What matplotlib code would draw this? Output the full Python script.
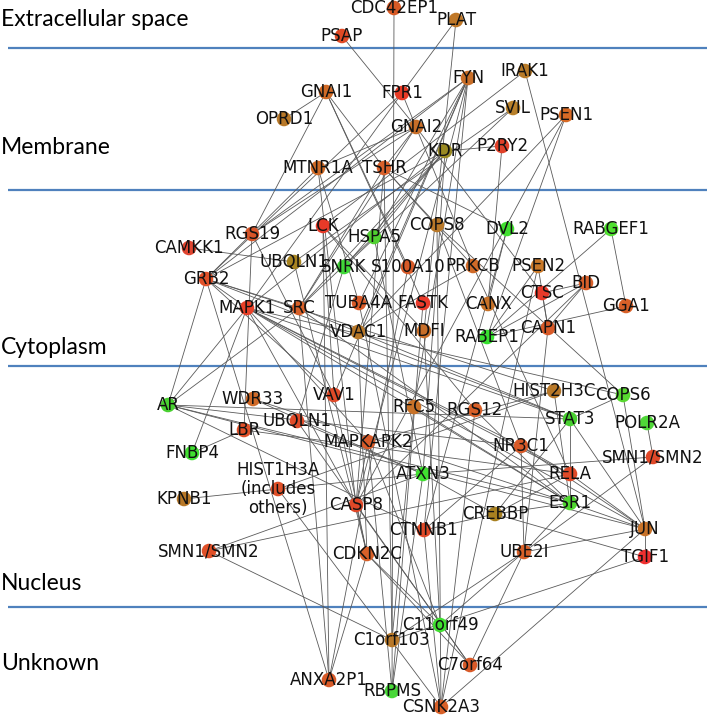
import matplotlib
matplotlib.use("Agg")
import matplotlib.pyplot as plt
from matplotlib.collections import LineCollection

# ---------------- data ----------------
nodes = ["CDC42EP1", "PLAT", "PSAP", "FYN", "IRAK1", "GNAI1", "FPR1", "SVIL", "PSEN1", "OPRD1",
         "GNAI2", "P2RY2", "KDR", "MTNR1A", "TSHR", "LCK", "COPS8", "DVL2", "RABGEF1", "RGS19",
         "HSPA5", "CAMKK1", "UBQLN1_c", "SNRK", "S100A10", "PRKCB", "PSEN2", "GRB2", "BID", "CTSC",
         "MAPK1", "SRC", "TUBA4A", "FASTK", "CANX", "GGA1", "CAPN1", "VDAC1", "MDFI", "RABEP1",
         "HIST2H3C", "VAV1", "COPS6", "WDR33", "AR", "RFC5", "RGS12", "STAT3", "UBQLN1_n", "POLR2A",
         "LBR", "MAPKAPK2", "NR3C1", "FNBP4", "SMN_R", "ATXN3", "RELA", "HIST1H3A", "KPNB1", "ESR1",
         "CASP8", "CREBBP", "JUN", "CTNNB1", "SMN_L", "UBE2I", "CDKN2C", "TGIF1", "C11orf49",
         "C1orf103", "C7orf64", "ANXA2P1", "RBPMS", "CSNK2A3"]

labels = {"UBQLN1_c": "UBQLN1", "UBQLN1_n": "UBQLN1", "SMN_R": "SMN1/SMN2", "SMN_L": "SMN1/SMN2",
          "HIST1H3A": "HIST1H3A\n(includes\nothers)"}

# layout (pixel positions of the network drawing)
pos_x = [394, 456, 342, 468, 525, 326, 402, 513, 566, 284,
         416, 502, 445, 318, 384, 323, 437, 507, 611, 252,
         374, 189, 294, 344, 408, 473, 538, 206, 586, 542,
         247, 299, 359, 423, 488, 626, 548, 358, 424, 487,
         554, 334, 623, 253, 168, 414, 475, 570, 297, 647,
         244, 368, 521, 192, 653, 423, 570, 278, 184, 570,
         356, 495, 645, 424, 209, 524, 367, 645, 440,
         392, 470, 329, 392, 441]
pos_y = [8, 20, 36, 78, 71, 92, 93, 108, 115, 119,
         127, 146, 151, 168, 168, 226, 225, 229, 229, 234,
         237, 248, 262, 267, 267, 266, 266, 279, 283, 293,
         308, 308, 303, 303, 304, 306, 328, 332, 331, 337,
         391, 395, 395, 399, 405, 407, 410, 419, 421, 423,
         430, 442, 446, 453, 457, 474, 474, 489, 499, 503,
         505, 514, 529, 530, 551, 552, 554, 557, 625,
         640, 665, 680, 691, 707]

node_colors = ["#D85A25", "#C07828", "#E04A25", "#C86E28", "#B87A28", "#D06A25", "#E83A25", "#B8802A", "#D86A25", "#B87828",
               "#C86E28", "#E04028", "#9A8A22", "#D06A25", "#D8602A", "#E83A28", "#B87828", "#40E030", "#50E030", "#D85528",
               "#50D030", "#E04530", "#A88420", "#40D838", "#D85A28", "#D06A28", "#C87828", "#E05028", "#D8602A", "#E83A2A",
               "#E84028", "#D86028", "#D85A28", "#EA3A2A", "#C87228", "#D86028", "#D85A28", "#B87828", "#C86E28", "#38E030",
               "#B87828", "#E04A28", "#58D830", "#D06A28", "#48D030", "#C87228", "#D86028", "#48D030", "#E04A28", "#50D838",
               "#E05028", "#D85A28", "#D85A28", "#40E030", "#E04828", "#40E030", "#E04A28", "#E05028", "#B87828", "#50D830",
               "#E04828", "#A88020", "#C87228", "#E04A28", "#E05028", "#D86028", "#D86028", "#F03030", "#40E030",
               "#B87828", "#D85A28", "#D85A28", "#48D838", "#D86028"]

edges = [
    ("CDC42EP1", "RBPMS"), ("PLAT", "FPR1"), ("PLAT", "MDFI"), ("PSAP", "GNAI2"), ("GNAI2", "CTSC"),
    ("OPRD1", "GNAI1"), ("GNAI1", "RGS19"), ("GNAI1", "TSHR"), ("GNAI1", "FASTK"), ("GNAI1", "S100A10"),
    ("FPR1", "GNAI2"), ("FPR1", "GRB2"), ("FPR1", "MAPK1"),
    ("FYN", "RGS19"), ("FYN", "GRB2"), ("FYN", "TUBA4A"), ("FYN", "VAV1"), ("FYN", "VDAC1"),
    ("FYN", "CASP8"), ("FYN", "RFC5"), ("FYN", "CTNNB1"),
    ("IRAK1", "LCK"), ("IRAK1", "JUN"), ("SVIL", "UBQLN1_c"), ("SVIL", "SNRK"),
    ("KDR", "P2RY2"), ("P2RY2", "CANX"), ("PSEN1", "RABEP1"), ("PSEN1", "CASP8"), ("PSEN1", "VDAC1"),
    ("KDR", "SNRK"), ("KDR", "SRC"), ("KDR", "MAPK1"), ("KDR", "GRB2"), ("KDR", "ATXN3"),
    ("MTNR1A", "GRB2"), ("MTNR1A", "TUBA4A"), ("MTNR1A", "CASP8"),
    ("TSHR", "GNAI2"), ("TSHR", "COPS8"), ("TSHR", "CASP8"), ("TSHR", "SRC"), ("TSHR", "C1orf103"),
    ("GNAI2", "MTNR1A"), ("GNAI2", "RGS19"), ("GNAI2", "SRC"),
    ("RABGEF1", "GGA1"), ("RABGEF1", "RABEP1"), ("GGA1", "RABEP1"), ("CAMKK1", "UBQLN1_c"),
    ("RGS19", "LBR"), ("RGS19", "VAV1"),
    ("GRB2", "SRC"), ("GRB2", "VAV1"), ("GRB2", "MAPK1"), ("GRB2", "AR"), ("GRB2", "HIST2H3C"),
    ("GRB2", "STAT3"), ("GRB2", "ANXA2P1"),
    ("LCK", "ANXA2P1"), ("LCK", "VAV1"), ("LCK", "MDFI"), ("LCK", "RGS12"),
    ("HSPA5", "SRC"), ("HSPA5", "KDR"), ("HSPA5", "ATXN3"), ("HSPA5", "FYN"),
    ("SNRK", "UBQLN1_n"),
    ("COPS8", "COPS6"), ("COPS8", "NR3C1"), ("COPS8", "CSNK2A3"),
    ("DVL2", "CTNNB1"), ("DVL2", "CANX"), ("DVL2", "TSHR"),
    ("S100A10", "ANXA2P1"), ("PRKCB", "RELA"), ("PRKCB", "VDAC1"), ("PRKCB", "TSHR"), ("PRKCB", "GNAI2"),
    ("PSEN2", "RABEP1"), ("PSEN2", "CSNK2A3"), ("PSEN2", "CAPN1"),
    ("BID", "CAPN1"), ("BID", "RABEP1"), ("BID", "CASP8"), ("BID", "CTSC"), ("CTSC", "CAPN1"),
    ("CAPN1", "UBE2I"), ("TUBA4A", "CSNK2A3"), ("VDAC1", "CDKN2C"), ("MDFI", "C11orf49"),
    ("FASTK", "RBPMS"),
    ("MAPK1", "AR"), ("MAPK1", "ESR1"), ("MAPK1", "STAT3"), ("MAPK1", "JUN"), ("MAPK1", "NR3C1"),
    ("MAPK1", "MAPKAPK2"), ("MAPK1", "CASP8"), ("MAPK1", "RELA"),
    ("SRC", "AR"), ("SRC", "ANXA2P1"), ("SRC", "ESR1"), ("SRC", "STAT3"),
    ("AR", "STAT3"), ("AR", "NR3C1"), ("AR", "ESR1"), ("AR", "JUN"), ("AR", "CTNNB1"),
    ("WDR33", "ESR1"), ("WDR33", "ATXN3"), ("VAV1", "CDKN2C"),
    ("HIST2H3C", "HIST1H3A"), ("HIST2H3C", "MAPKAPK2"), ("HIST2H3C", "ESR1"),
    ("COPS6", "JUN"), ("COPS6", "MAPK1"), ("COPS6", "STAT3"),
    ("RFC5", "ESR1"), ("RFC5", "C1orf103"), ("RGS12", "ESR1"), ("RGS12", "CSNK2A3"),
    ("UBQLN1_n", "ATXN3"), ("UBQLN1_c", "CDKN2C"), ("LBR", "FNBP4"), ("LBR", "RELA"),
    ("MAPKAPK2", "CASP8"), ("MAPKAPK2", "C11orf49"),
    ("NR3C1", "JUN"), ("NR3C1", "RELA"), ("NR3C1", "UBE2I"), ("NR3C1", "CTNNB1"),
    ("FNBP4", "MAPK1"), ("POLR2A", "SMN_R"), ("SMN_R", "ATXN3"), ("SMN_R", "UBE2I"),
    ("ATXN3", "CREBBP"), ("STAT3", "RELA"), ("RELA", "ESR1"), ("STAT3", "JUN"), ("RELA", "JUN"),
    ("RELA", "CREBBP"), ("KPNB1", "HIST1H3A"), ("HIST1H3A", "ATXN3"),
    ("CASP8", "C7orf64"), ("CASP8", "CDKN2C"),
    ("ESR1", "JUN"), ("ESR1", "UBE2I"), ("ESR1", "CREBBP"),
    ("CREBBP", "CTNNB1"), ("CREBBP", "TGIF1"), ("CREBBP", "STAT3"),
    ("CTNNB1", "CSNK2A3"), ("JUN", "TGIF1"), ("JUN", "CSNK2A3"), ("JUN", "UBE2I"),
    ("SMN_L", "C1orf103"), ("SMN_L", "ATXN3"), ("SMN_L", "RELA"),
    ("CDKN2C", "ANXA2P1"), ("CDKN2C", "C11orf49"), ("CDKN2C", "C7orf64"),
    ("UBE2I", "C1orf103"), ("UBE2I", "C7orf64"), ("UBE2I", "C11orf49"),
    ("TGIF1", "C1orf103"), ("UBQLN1_n", "C7orf64"),
    ("CSNK2A3", "HIST1H3A"), ("RBPMS", "ATXN3"), ("RBPMS", "MAPKAPK2"),
]

compartments = ["Extracellular space", "Membrane", "Cytoplasm", "Nucleus", "Unknown"]
compartment_label_y = [20, 147, 347, 584, 664]
separator_y = [48, 190, 366, 607]

# ---------------- drawing ----------------
fig = plt.figure(figsize=(7.07, 7.15), dpi=100)
ax = fig.add_axes([0, 0, 1, 1])
ax.set_xlim(0, 707)
ax.set_ylim(715, 0)
ax.axis("off")

pos = {n: (x, y) for n, x, y in zip(nodes, pos_x, pos_y)}

ax.hlines(separator_y, 8, 707, color="#4F81BD", lw=1.6, zorder=1)

segs = [[pos[a], pos[b]] for a, b in edges]
ax.add_collection(LineCollection(segs, colors="#5a5a5a", linewidths=0.6, zorder=2))

ax.scatter(pos_x, pos_y, s=110, c=node_colors, edgecolors="none", zorder=3)

for n, x, y in zip(nodes, pos_x, pos_y):
    ax.text(x, y, labels.get(n, n), ha="center", va="center", fontsize=12,
            family="DejaVu Sans", color="#111111", zorder=4, linespacing=1.05)

for t, y in zip(compartments, compartment_label_y):
    ax.text(1, y, t, ha="left", va="center", fontsize=16.5, family="Lato", color="black")

fig.savefig("out.png", dpi=100)
